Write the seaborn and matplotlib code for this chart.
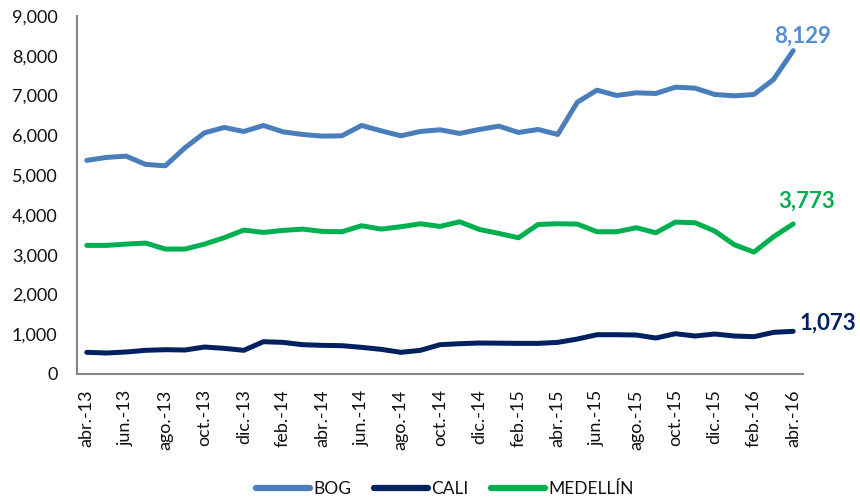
import matplotlib
matplotlib.use("Agg")
import matplotlib.pyplot as plt
import seaborn as sns
import pandas as pd
import numpy as np
from matplotlib.lines import Line2D

months = ["abr.-13","may.-13","jun.-13","jul.-13","ago.-13","sep.-13","oct.-13","nov.-13","dic.-13","ene.-14",
          "feb.-14","mar.-14","abr.-14","may.-14","jun.-14","jul.-14","ago.-14","sep.-14","oct.-14","nov.-14",
          "dic.-14","ene.-15","feb.-15","mar.-15","abr.-15","may.-15","jun.-15","jul.-15","ago.-15","sep.-15",
          "oct.-15","nov.-15","dic.-15","ene.-16","feb.-16","mar.-16","abr.-16"]

bog = [5370, 5445, 5477, 5269, 5234, 5686, 6063, 6198, 6097, 6248,
       6088, 6022, 5980, 5988, 6248, 6114, 5988, 6097, 6139, 6047,
       6147, 6231, 6072, 6147, 6022, 6834, 7136, 7002, 7069, 7052,
       7211, 7186, 7027, 6993, 7027, 7404, 8129]
cali = [545, 528, 553, 595, 611, 603, 678, 645, 595, 812,
        795, 737, 720, 712, 670, 620, 545, 595, 737, 762,
        779, 775, 770, 770, 795, 879, 988, 988, 980, 905,
        1013, 955, 1005, 955, 938, 1047, 1073]
med = [3233, 3233, 3266, 3291, 3141, 3141, 3266, 3425, 3618, 3559,
       3610, 3643, 3585, 3576, 3727, 3643, 3702, 3777, 3710, 3827,
       3635, 3534, 3425, 3760, 3777, 3769, 3576, 3576, 3677, 3551,
       3819, 3802, 3593, 3250, 3065, 3451, 3773]

series = ["BOG", "CALI", "MEDELLÍN"]
colors = {"BOG": "#4A7EBB", "CALI": "#002060", "MEDELLÍN": "#00B050"}
label_colors = {"BOG": "#558ED5", "CALI": "#002060", "MEDELLÍN": "#00B050"}

n = len(months)
df = pd.DataFrame({
    "x": list(range(n)) * 3,
    "value": bog + cali + med,
    "city": ["BOG"] * n + ["CALI"] * n + ["MEDELLÍN"] * n,
})

sns.set_style("white")
plt.rcParams["font.family"] = ["Lato", "DejaVu Sans"]

fig = plt.figure(figsize=(8.6, 4.99), dpi=100)
ax = fig.add_axes([77/860, 125/499, (803-77)/860, (374-16)/499])

sns.lineplot(data=df, x="x", y="value", hue="city", palette=colors,
             linewidth=3.6, ax=ax, sort=False, legend=False)

txt = "#111111"
ax.set_xlim(-0.5, n - 0.5)
ax.set_ylim(0, 9000)
ax.set_yticks(range(0, 9001, 1000))
ax.set_yticklabels([f"{v:,}" for v in range(0, 9001, 1000)])
ax.set_xticks(range(0, n, 2))
ax.set_xticklabels(months[0::2], rotation=90)
ax.set_xticks(np.arange(-0.5, n - 1, 2), minor=True)
ax.tick_params(axis="x", which="major", length=0, pad=11, labelsize=13, colors=txt)
ax.tick_params(axis="x", which="minor", length=5, width=1.2, color="#868686", direction="out")
ax.tick_params(axis="y", length=5, width=1.2, color="#868686", direction="out",
               labelsize=13, labelcolor=txt, pad=9)
ax.set_xlabel("")
ax.set_ylabel("")
for s in ["top", "right"]:
    ax.spines[s].set_visible(False)
for s in ["left", "bottom"]:
    ax.spines[s].set_color("#868686")
    ax.spines[s].set_linewidth(1.5)

# end labels
last = n - 1
ax.annotate(f"{bog[-1]:,}", (last, bog[-1]), xytext=(6.5, 6), textcoords="offset points",
            ha="center", va="baseline", fontsize=16, fontweight="bold", color=label_colors["BOG"])
ax.annotate(f"{med[-1]:,}", (last, med[-1]), xytext=(10, 12), textcoords="offset points",
            ha="center", va="baseline", fontsize=16, fontweight="bold", color=label_colors["MEDELLÍN"])
ax.annotate(f"{cali[-1]:,}", (last, cali[-1]), xytext=(4.5, 1), textcoords="offset points",
            ha="left", va="baseline", fontsize=16, fontweight="bold", color=label_colors["CALI"])

handles = [Line2D([0], [0], color=colors[s], lw=4.5, solid_capstyle="round") for s in series]
fig.legend(handles, series, loc="center", bbox_to_anchor=(445/860, 1 - 489/499), ncol=3,
           frameon=False, fontsize=12.5, handlelength=3.1, columnspacing=1.3, handletextpad=0.2,
           labelcolor=txt, borderpad=0)

fig.savefig("out.png", dpi=100)
